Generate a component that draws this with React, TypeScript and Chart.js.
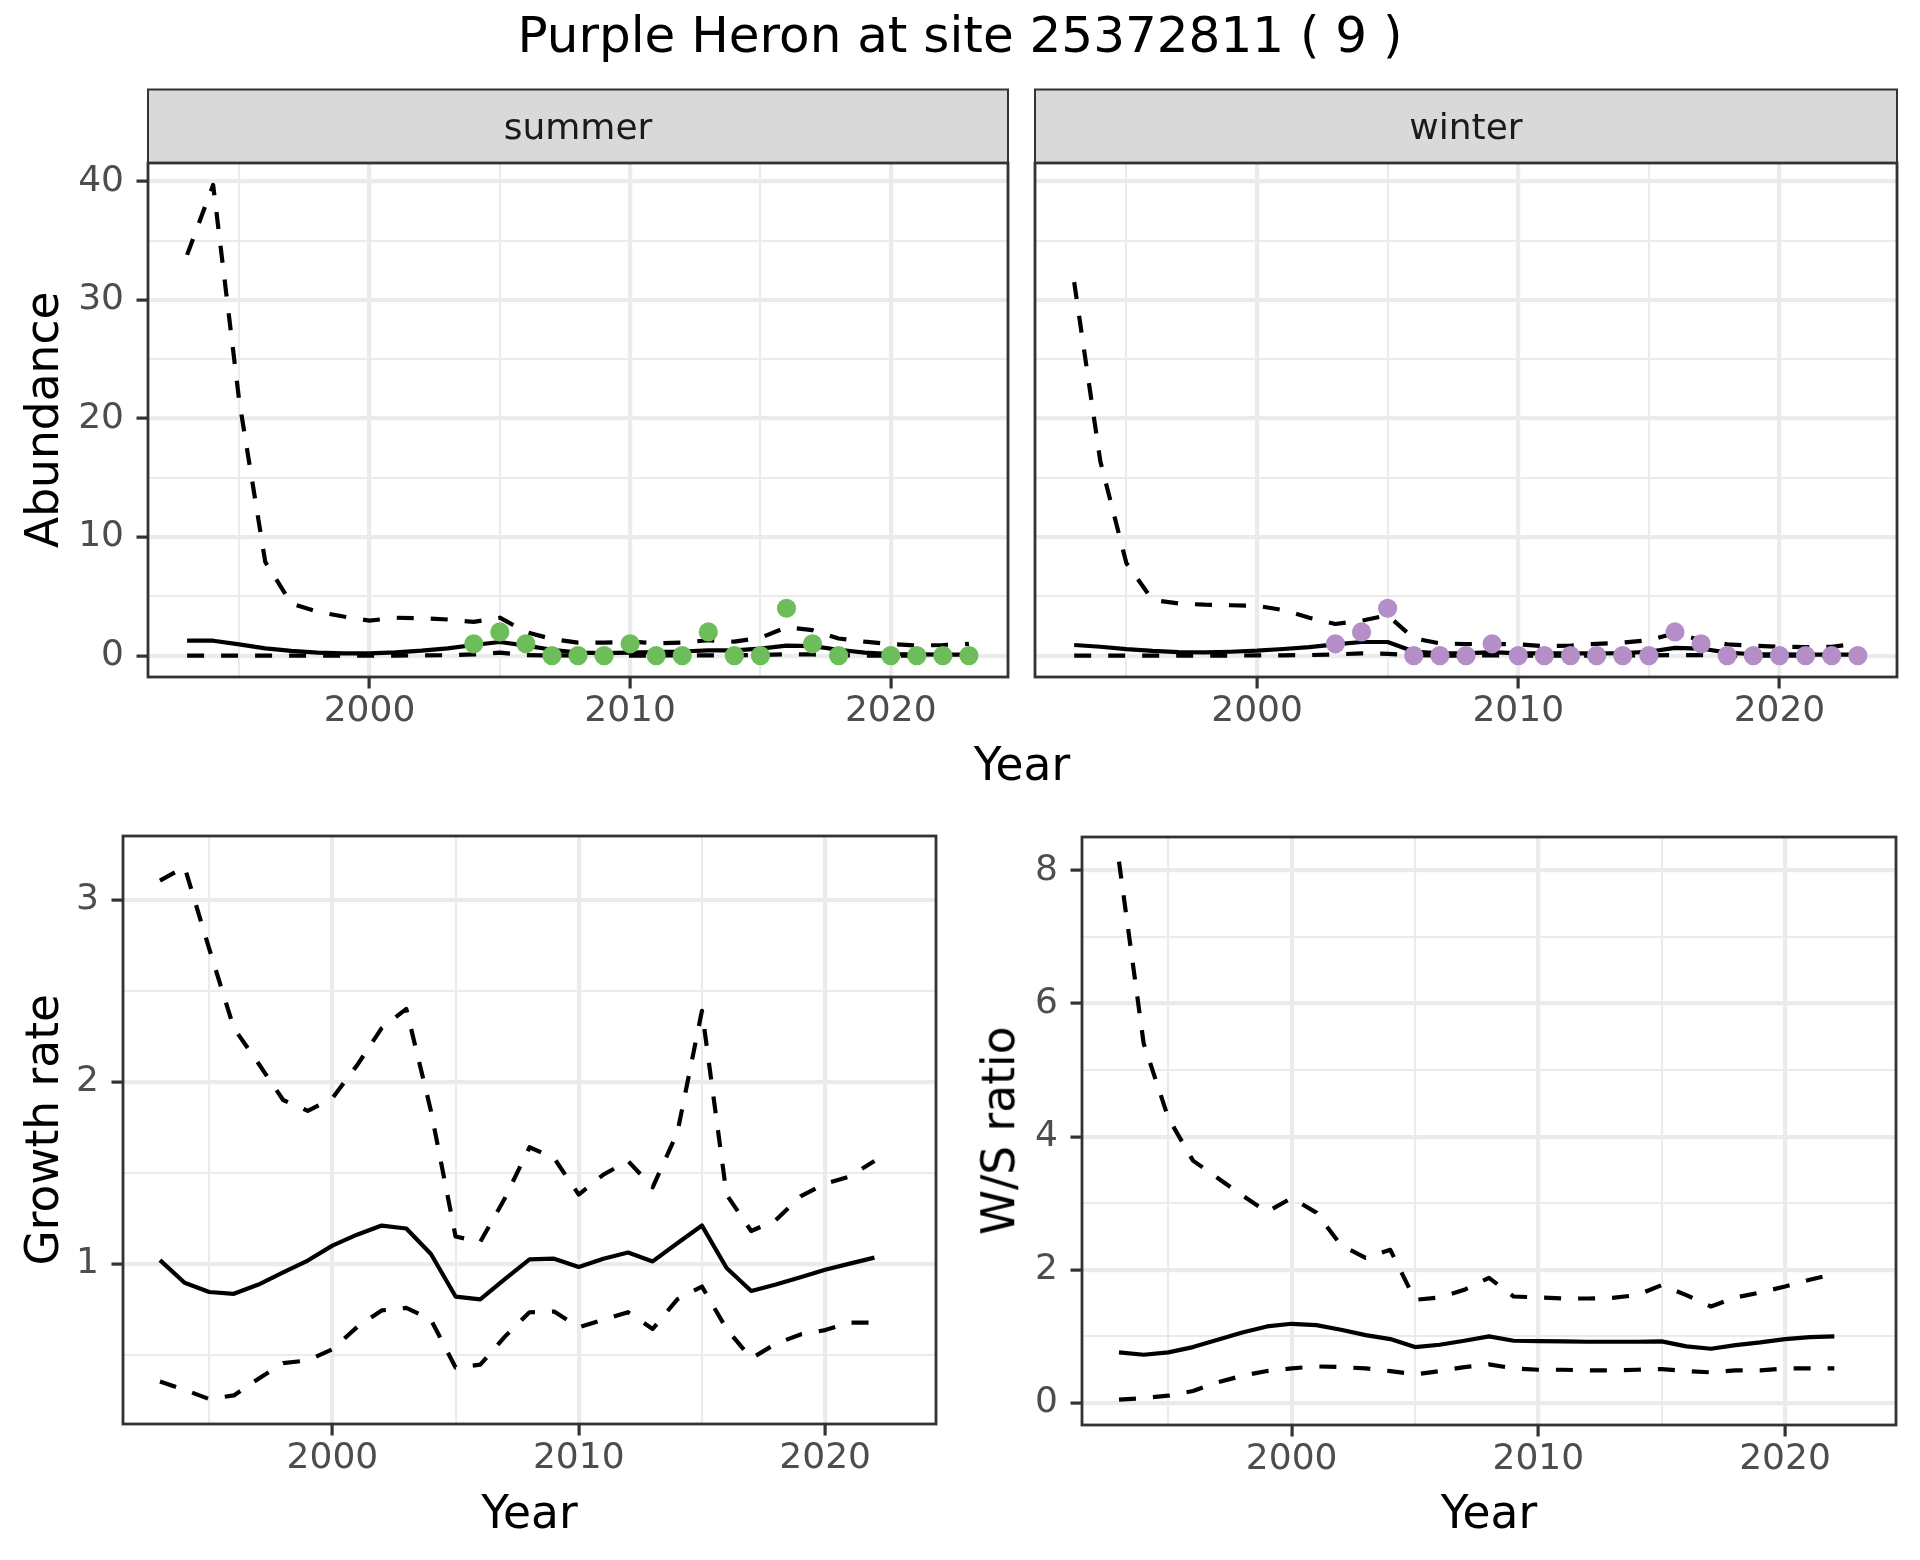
import React, { useEffect, useRef } from 'react';
import { Chart, registerables } from 'chart.js';

Chart.register(...registerables);

// ---------------- data ----------------
const YEARS_TOP = [1993, 1994, 1995, 1996, 1997, 1998, 1999, 2000, 2001, 2002, 2003, 2004, 2005, 2006, 2007, 2008, 2009, 2010, 2011, 2012, 2013, 2014, 2015, 2016, 2017, 2018, 2019, 2020, 2021, 2022, 2023];
const YEARS_BOTTOM = [1993, 1994, 1995, 1996, 1997, 1998, 1999, 2000, 2001, 2002, 2003, 2004, 2005, 2006, 2007, 2008, 2009, 2010, 2011, 2012, 2013, 2014, 2015, 2016, 2017, 2018, 2019, 2020, 2021, 2022];

const SUMMER_HI = [33.8, 39.7, 21.5, 7.9, 4.4, 3.7, 3.3, 2.95, 3.2, 3.15, 3.05, 2.85, 3.2, 2.0, 1.4, 1.1, 1.1, 1.18, 1.04, 1.1, 1.3, 1.18, 1.5, 2.4, 2.15, 1.45, 1.18, 0.98, 0.85, 0.9, 1.0];
const SUMMER_MID = [1.26, 1.26, 0.95, 0.62, 0.4, 0.25, 0.2, 0.2, 0.28, 0.42, 0.62, 0.9, 1.15, 0.85, 0.5, 0.25, 0.22, 0.25, 0.3, 0.35, 0.45, 0.45, 0.6, 0.85, 0.8, 0.5, 0.25, 0.14, 0.1, 0.08, 0.08];
const SUMMER_LO = [0.01, 0.01, 0.01, 0.01, 0.01, 0.01, 0.01, 0.01, 0.01, 0.02, 0.04, 0.1, 0.25, 0.05, 0.02, 0.01, 0.01, 0.01, 0.01, 0.02, 0.03, 0.03, 0.06, 0.12, 0.1, 0.03, 0.01, 0.01, 0.01, 0.01, 0.01];
const SUMMER_OBS = [null, null, null, null, null, null, null, null, null, null, null, 1, 2, 1, 0, 0, 0, 1, 0, 0, 2, 0, 0, 4, 1, 0, null, 0, 0, 0, 0];

const WINTER_HI = [31.5, 16.4, 7.8, 4.7, 4.4, 4.3, 4.25, 4.2, 3.85, 3.2, 2.67, 2.95, 3.4, 1.46, 1.04, 0.98, 1.0, 0.95, 0.8, 0.85, 1.0, 1.1, 1.3, 1.9, 1.3, 0.95, 0.85, 0.75, 0.72, 0.75, 1.0];
const WINTER_MID = [0.9, 0.75, 0.55, 0.4, 0.3, 0.28, 0.33, 0.42, 0.56, 0.72, 0.95, 1.15, 1.15, 0.35, 0.2, 0.2, 0.3, 0.2, 0.2, 0.2, 0.2, 0.22, 0.33, 0.65, 0.6, 0.25, 0.12, 0.1, 0.08, 0.08, 0.08];
const WINTER_LO = [0.01, 0.01, 0.01, 0.01, 0.01, 0.01, 0.01, 0.02, 0.03, 0.05, 0.1, 0.2, 0.15, 0.04, 0.01, 0.01, 0.02, 0.01, 0.01, 0.01, 0.01, 0.01, 0.02, 0.05, 0.04, 0.01, 0.01, 0.01, 0.01, 0.01, 0.01];
const WINTER_OBS = [null, null, null, null, null, null, null, null, null, null, 1, 2, 4, 0, 0, 0, 1, 0, 0, 0, 0, 0, 0, 2, 1, 0, 0, 0, 0, 0, 0];

const GROWTH_HI = [3.105, 3.18, 2.73, 2.295, 2.1, 1.9, 1.84, 1.91, 2.09, 2.295, 2.4, 1.84, 1.15, 1.12, 1.36, 1.64, 1.58, 1.38, 1.49, 1.565, 1.42, 1.72, 2.39, 1.38, 1.18, 1.24, 1.37, 1.44, 1.48, 1.565];
const GROWTH_MID = [1.02, 0.896, 0.845, 0.835, 0.886, 0.953, 1.018, 1.1, 1.16, 1.21, 1.194, 1.054, 0.82, 0.805, 0.916, 1.024, 1.028, 0.983, 1.028, 1.062, 1.013, 1.113, 1.21, 0.977, 0.851, 0.886, 0.926, 0.967, 1.001, 1.034];
const GROWTH_LO = [0.353, 0.308, 0.257, 0.277, 0.369, 0.454, 0.47, 0.53, 0.652, 0.744, 0.758, 0.693, 0.43, 0.446, 0.6, 0.734, 0.738, 0.652, 0.693, 0.734, 0.642, 0.805, 0.875, 0.642, 0.48, 0.561, 0.612, 0.636, 0.677, 0.677];

const RATIO_HI = [8.13, 5.4, 4.28, 3.64, 3.38, 3.12, 2.87, 3.08, 2.86, 2.37, 2.18, 2.3, 1.55, 1.585, 1.7, 1.88, 1.6, 1.585, 1.57, 1.57, 1.58, 1.62, 1.77, 1.62, 1.45, 1.585, 1.66, 1.75, 1.85, 1.94];
const RATIO_MID = [0.76, 0.725, 0.76, 0.84, 0.95, 1.06, 1.15, 1.19, 1.17, 1.1, 1.02, 0.96, 0.84, 0.875, 0.935, 1.0, 0.935, 0.93, 0.925, 0.92, 0.92, 0.92, 0.925, 0.85, 0.815, 0.87, 0.91, 0.96, 0.99, 1.0];
const RATIO_LO = [0.05, 0.075, 0.11, 0.18, 0.31, 0.41, 0.48, 0.52, 0.55, 0.54, 0.52, 0.48, 0.43, 0.48, 0.54, 0.58, 0.52, 0.5, 0.5, 0.49, 0.49, 0.5, 0.51, 0.48, 0.46, 0.49, 0.49, 0.52, 0.52, 0.52];

// ---------------- ticks ----------------
const X_TICKS = [1995, 2000, 2005, 2010, 2015, 2020];
const X_LABELED = [2000, 2010, 2020];
const ABUND_TICKS = [0, 5, 10, 15, 20, 25, 30, 35, 40];
const ABUND_LABELED = [0, 10, 20, 30, 40];
const GROWTH_TICKS = [0.5, 1, 1.5, 2, 2.5, 3];
const GROWTH_LABELED = [1, 2, 3];
const RATIO_TICKS = [0, 1, 2, 3, 4, 5, 6, 7, 8];
const RATIO_LABELED = [0, 2, 4, 6, 8];

const TITLE = 'Purple Heron at site 25372811 ( 9 )';
const STRIPS = ['summer', 'winter'];

const SUMMER_COLOR = '#6DBD5B';
const WINTER_COLOR = '#B48EC6';
const FONT = "'DejaVu Sans'";

// ---------------- helpers ----------------
function lineDs(years: number[], vals: number[], dashed: boolean) {
  return {
    data: years.map((x, i) => ({ x, y: vals[i] })),
    borderColor: '#000000',
    borderWidth: 4.2,
    borderDash: dashed ? [17, 17] : [],
    borderJoinStyle: 'round',
    borderCapStyle: 'butt',
    pointRadius: 0,
    tension: 0,
    fill: false,
    order: 1,
  };
}

function pointDs(years: number[], vals: (number | null)[], color: string) {
  return {
    data: years
      .map((x, i) => ({ x, y: vals[i] }))
      .filter((p) => p.y !== null),
    showLine: false,
    backgroundColor: color,
    borderColor: color,
    borderWidth: 0,
    pointRadius: 9.6,
    pointHoverRadius: 9.6,
    order: 0,
  };
}

const STRIP_TOP = 89.5;

function panelPlugin(strip?: string) {
  return {
    id: 'panelDecor',
    afterDraw(chart: any) {
      const { left, top, right, bottom } = chart.chartArea;
      const ctx = chart.ctx;
      ctx.save();
      if (strip) {
        ctx.fillStyle = '#D9D9D9';
        ctx.fillRect(left, STRIP_TOP, right - left, top - STRIP_TOP);
        ctx.strokeStyle = '#333333';
        ctx.lineWidth = 2;
        ctx.strokeRect(left, STRIP_TOP, right - left, top - STRIP_TOP);
        ctx.fillStyle = '#1A1A1A';
        ctx.font = `36px ${FONT}`;
        ctx.textAlign = 'center';
        ctx.textBaseline = 'alphabetic';
        ctx.fillText(strip, (left + right) / 2, 139);
      }
      ctx.strokeStyle = '#333333';
      ctx.lineWidth = 2.8;
      ctx.strokeRect(left, top, right - left, bottom - top);
      ctx.restore();
    },
  };
}

type PanelOpts = {
  datasets: any[];
  padding: { left: number; top: number; right: number; bottom: number };
  yW: number;
  xH: number;
  yMin: number;
  yMax: number;
  yTicks: number[];
  yLabeled: number[];
  showY: boolean;
  strip?: string;
};

function makeChart(canvas: HTMLCanvasElement, o: PanelOpts) {
  const tickFont = { family: FONT, size: 36, lineHeight: 1 };
  return new Chart(canvas, {
    type: 'line',
    data: { datasets: o.datasets },
    options: {
      animation: false,
      responsive: false,
      devicePixelRatio: 1,
      events: [],
      layout: { padding: o.padding, autoPadding: false },
      plugins: {
        legend: { display: false },
        tooltip: { enabled: false },
        title: { display: false },
      },
      scales: {
        x: {
          type: 'linear',
          position: 'bottom',
          min: 1991.5,
          max: 2024.5,
          afterBuildTicks: (s: any) => {
            s.ticks = X_TICKS.map((v) => ({ value: v }));
          },
          afterFit: (s: any) => {
            s.height = o.xH;
          },
          border: { display: false },
          ticks: {
            autoSkip: false,
            maxRotation: 0,
            minRotation: 0,
            padding: 5,
            color: '#4D4D4D',
            font: tickFont,
            callback: (v: any) => (X_LABELED.includes(v) ? String(v) : ''),
          },
          grid: {
            color: '#EBEBEB',
            lineWidth: (c: any) => (c.tick && X_LABELED.includes(c.tick.value) ? 4.2 : 2.1),
            drawTicks: true,
            tickLength: 11.5,
            tickWidth: 3.2,
            tickColor: (c: any) =>
              c.tick && X_LABELED.includes(c.tick.value) ? '#333333' : 'rgba(0,0,0,0)',
          },
        },
        y: {
          type: 'linear',
          position: 'left',
          min: o.yMin,
          max: o.yMax,
          afterBuildTicks: (s: any) => {
            s.ticks = o.yTicks.map((v) => ({ value: v }));
          },
          afterFit: (s: any) => {
            s.width = o.yW;
          },
          border: { display: false },
          ticks: {
            display: o.showY,
            autoSkip: false,
            padding: 12.5,
            color: '#4D4D4D',
            font: tickFont,
            callback: (v: any) => (o.yLabeled.includes(v) ? String(v) : ''),
          },
          grid: {
            color: '#EBEBEB',
            lineWidth: (c: any) => (c.tick && o.yLabeled.includes(c.tick.value) ? 4.2 : 2.1),
            drawTicks: o.showY,
            tickLength: 11.5,
            tickWidth: 3.2,
            tickColor: (c: any) =>
              c.tick && o.yLabeled.includes(c.tick.value) ? '#333333' : 'rgba(0,0,0,0)',
          },
        },
      },
    },
    plugins: [panelPlugin(o.strip)],
  } as any);
}

const canvasStyle = (left: number, top: number, w: number, h: number): React.CSSProperties => ({
  position: 'absolute',
  left,
  top,
  width: w,
  height: h,
});

const textBase: React.CSSProperties = {
  position: 'absolute',
  fontFamily: FONT,
  lineHeight: 1,
  whiteSpace: 'nowrap',
  color: '#000000',
};

export default function App() {
  const tlRef = useRef<HTMLCanvasElement>(null);
  const trRef = useRef<HTMLCanvasElement>(null);
  const blRef = useRef<HTMLCanvasElement>(null);
  const brRef = useRef<HTMLCanvasElement>(null);

  useEffect(() => {
    document.body.style.margin = '0';
    const charts: Chart[] = [];
    charts.push(
      makeChart(tlRef.current!, {
        datasets: [
          lineDs(YEARS_TOP, SUMMER_HI, true),
          lineDs(YEARS_TOP, SUMMER_MID, false),
          lineDs(YEARS_TOP, SUMMER_LO, true),
          pointDs(YEARS_TOP, SUMMER_OBS, SUMMER_COLOR),
        ],
        padding: { left: 0, top: 163, right: 2, bottom: 0 },
        yW: 148,
        xH: 113,
        yMin: -1.8,
        yMax: 41.55,
        yTicks: ABUND_TICKS,
        yLabeled: ABUND_LABELED,
        showY: true,
        strip: STRIPS[0],
      })
    );
    charts.push(
      makeChart(trRef.current!, {
        datasets: [
          lineDs(YEARS_TOP, WINTER_HI, true),
          lineDs(YEARS_TOP, WINTER_MID, false),
          lineDs(YEARS_TOP, WINTER_LO, true),
          pointDs(YEARS_TOP, WINTER_OBS, WINTER_COLOR),
        ],
        padding: { left: 0, top: 163, right: 23, bottom: 0 },
        yW: 15,
        xH: 113,
        yMin: -1.8,
        yMax: 41.55,
        yTicks: ABUND_TICKS,
        yLabeled: ABUND_LABELED,
        showY: false,
        strip: STRIPS[1],
      })
    );
    charts.push(
      makeChart(blRef.current!, {
        datasets: [
          lineDs(YEARS_BOTTOM, GROWTH_HI, true),
          lineDs(YEARS_BOTTOM, GROWTH_MID, false),
          lineDs(YEARS_BOTTOM, GROWTH_LO, true),
        ],
        padding: { left: 0, top: 46, right: 64, bottom: 0 },
        yW: 123,
        xH: 136,
        yMin: 0.12,
        yMax: 3.35,
        yTicks: GROWTH_TICKS,
        yLabeled: GROWTH_LABELED,
        showY: true,
      })
    );
    charts.push(
      makeChart(brRef.current!, {
        datasets: [
          lineDs(YEARS_BOTTOM, RATIO_HI, true),
          lineDs(YEARS_BOTTOM, RATIO_MID, false),
          lineDs(YEARS_BOTTOM, RATIO_LO, true),
        ],
        padding: { left: 0, top: 47, right: 24, bottom: 0 },
        yW: 82,
        xH: 135,
        yMin: -0.33,
        yMax: 8.5,
        yTicks: RATIO_TICKS,
        yLabeled: RATIO_LABELED,
        showY: true,
      })
    );
    return () => charts.forEach((c) => c.destroy());
  }, []);

  const rot = (cx: number, cy: number): React.CSSProperties => ({
    ...textBase,
    fontSize: 45.5,
    left: cx - 300,
    top: cy - 22.75,
    width: 600,
    height: 45.5,
    textAlign: 'center',
    transform: 'rotate(-90deg)',
    transformOrigin: '50% 50%',
  });

  return (
    <div style={{ position: 'relative', width: 1920, height: 1560, background: '#ffffff', overflow: 'hidden' }}>
      <div style={{ ...textBase, fontSize: 50, left: 0, width: 1920, top: 9.7, textAlign: 'center' }}>{TITLE}</div>

      <canvas ref={tlRef} width={1010} height={790} style={canvasStyle(0, 0, 1010, 790)} />
      <canvas ref={trRef} width={900} height={790} style={canvasStyle(1020, 0, 900, 790)} />
      <canvas ref={blRef} width={1000} height={770} style={canvasStyle(0, 790, 1000, 770)} />
      <canvas ref={brRef} width={920} height={770} style={canvasStyle(1000, 790, 920, 770)} />

      <div style={rot(43.25, 420)}>Abundance</div>
      <div style={rot(43.25, 1130)}>Growth rate</div>
      <div style={rot(999.25, 1131)}>W/S ratio</div>

      <div style={{ ...textBase, fontSize: 45.5, left: 1022 - 300, width: 600, top: 780 - 38.5, textAlign: 'center' }}>Year</div>
      <div style={{ ...textBase, fontSize: 45.5, left: 529.5 - 300, width: 600, top: 1528 - 38.5, textAlign: 'center' }}>Year</div>
      <div style={{ ...textBase, fontSize: 45.5, left: 1489 - 300, width: 600, top: 1528 - 38.5, textAlign: 'center' }}>Year</div>
    </div>
  );
}
